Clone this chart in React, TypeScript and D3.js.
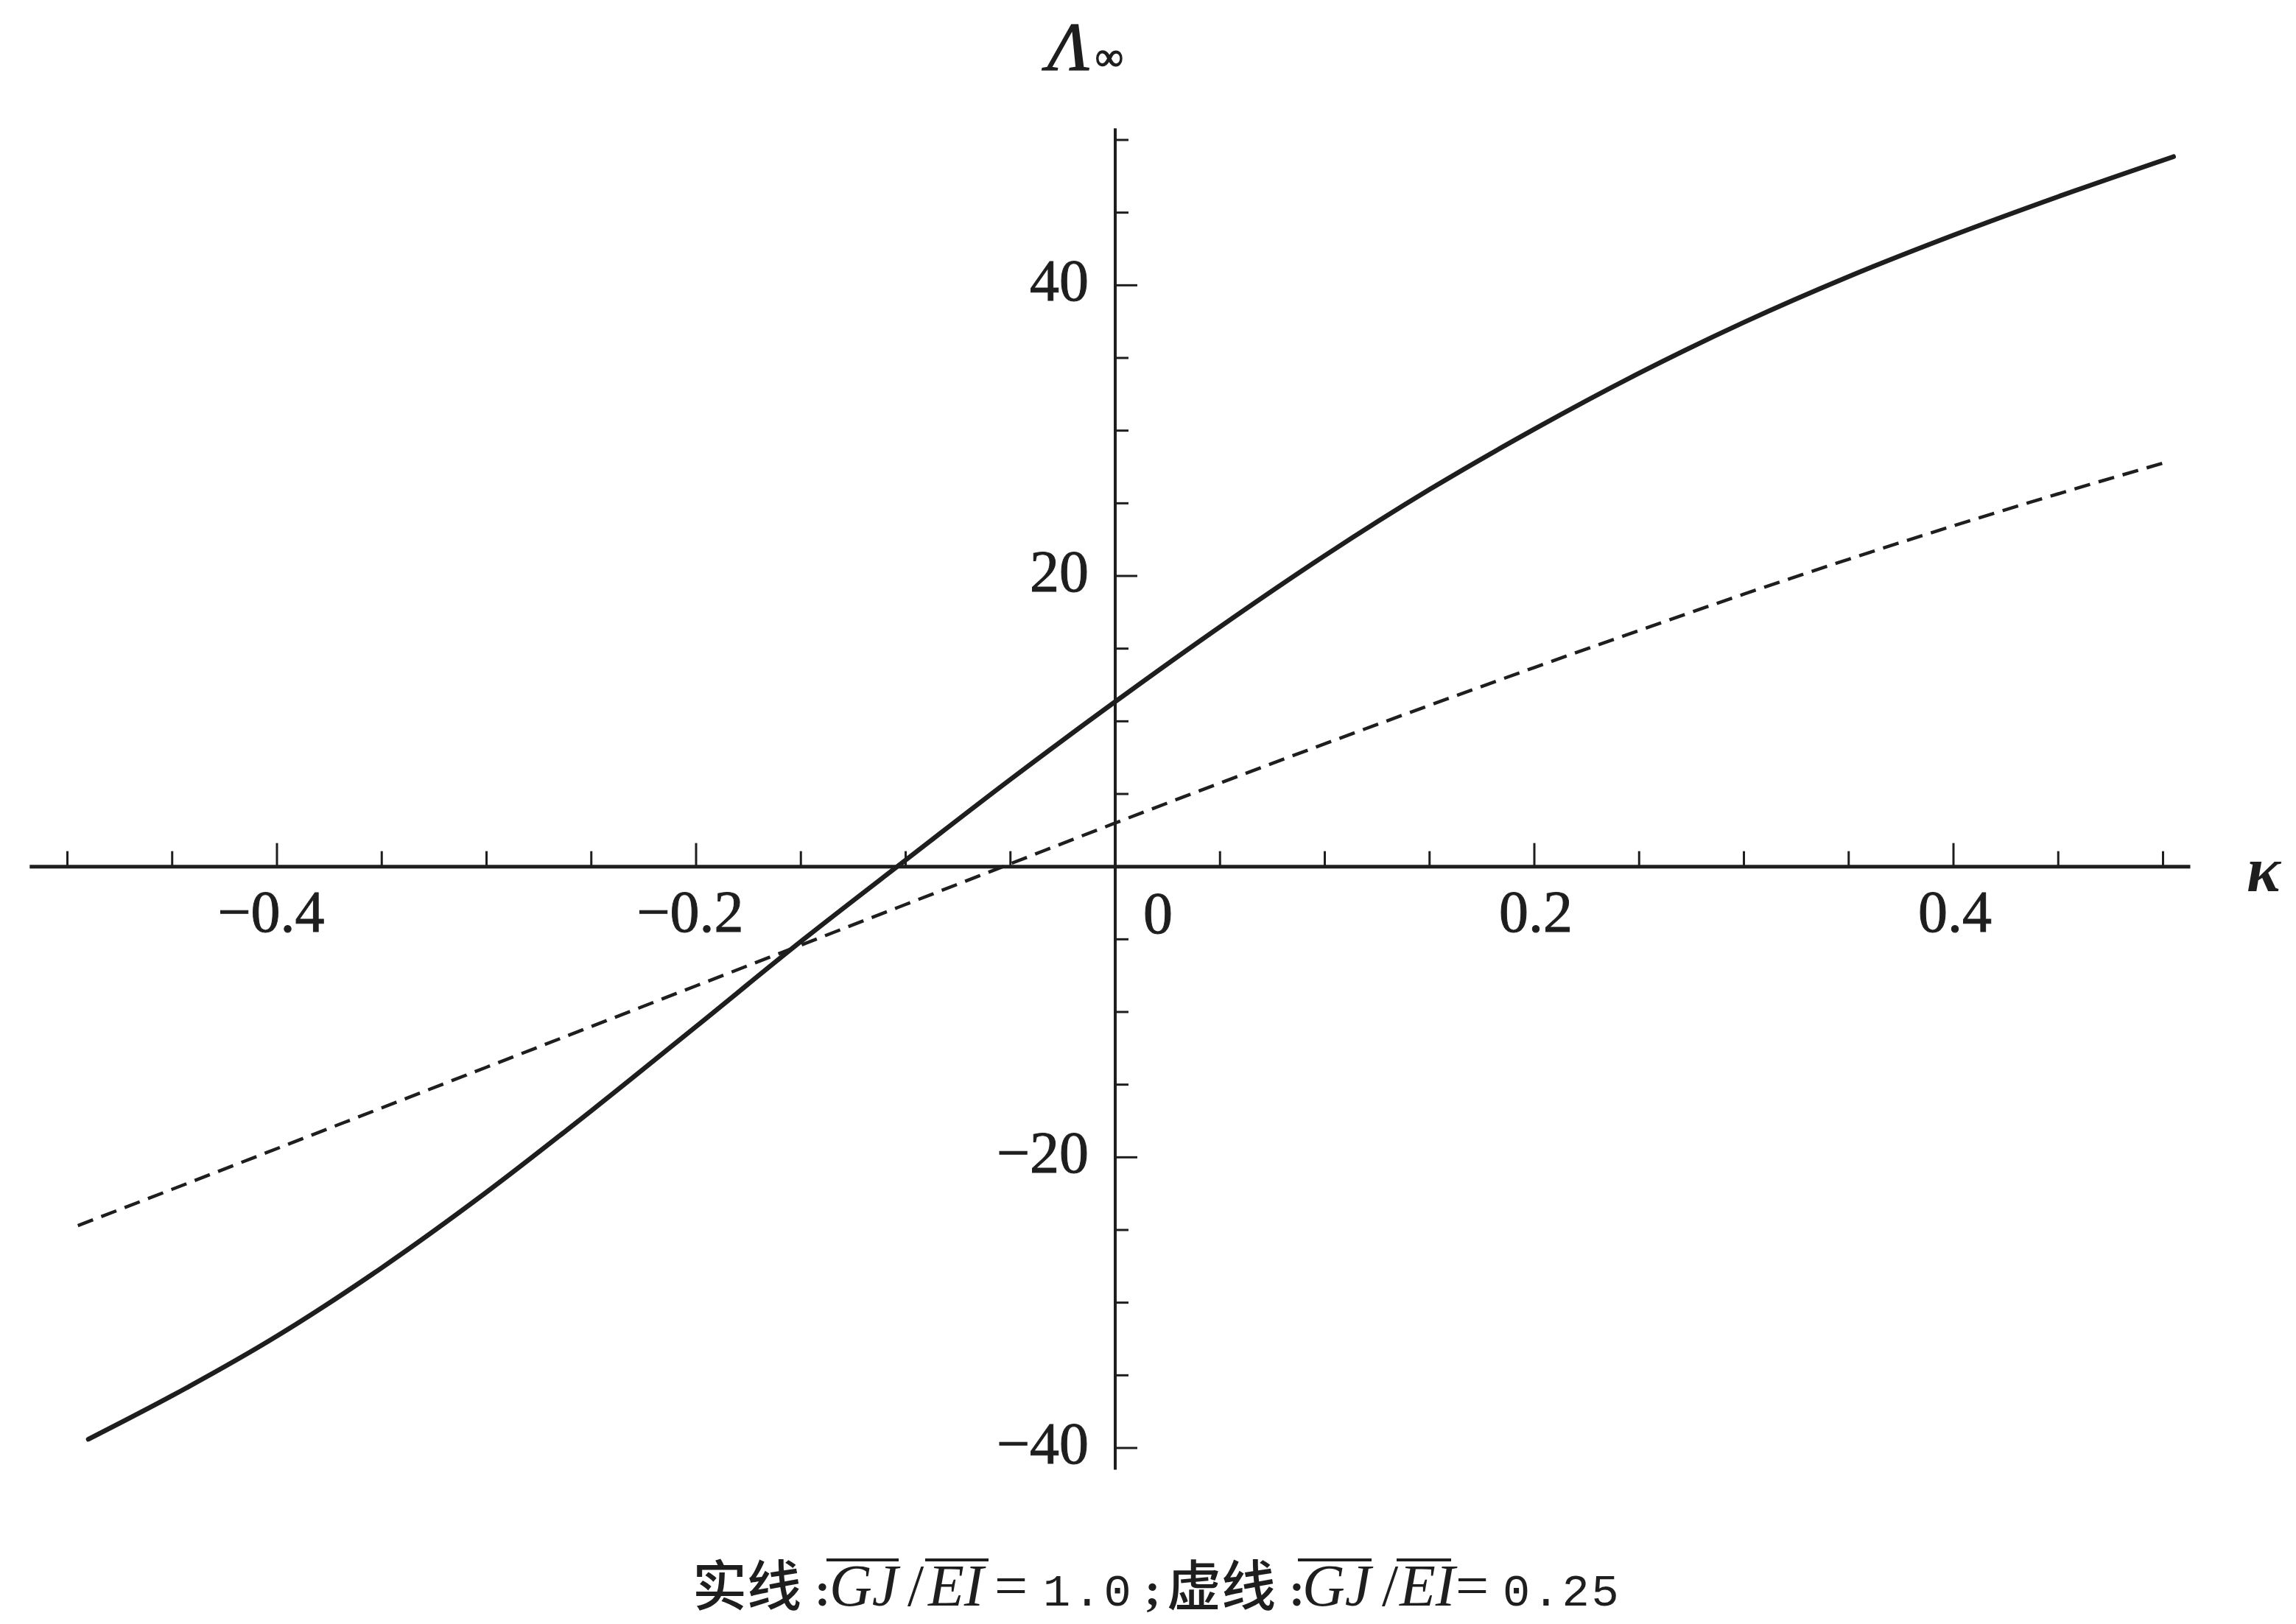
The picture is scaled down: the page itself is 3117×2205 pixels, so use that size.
import { useEffect } from "react";
import * as d3 from "d3";

const W = 3117;
const H = 2205;

// solid line: GJ/EI = 1.0
const kappaSolid = [-0.49, -0.45, -0.4, -0.35, -0.3, -0.25, -0.2, -0.15, -0.1, -0.05, 0, 0.05, 0.1, 0.15, 0.2, 0.25, 0.3, 0.35, 0.4, 0.45, 0.505];
const lambdaSolid = [-39.4, -36.4, -32.3, -27.6, -22.4, -16.8, -11.0, -5.15, 0.45, 6.0, 11.35, 16.5, 21.4, 25.95, 30.1, 33.95, 37.45, 40.6, 43.45, 46.1, 48.85];

// dashed line: GJ/EI = 0.25
const kappaDashed = [-0.495, -0.45, -0.4, -0.35, -0.3, -0.25, -0.2, -0.15, -0.1, -0.05, 0, 0.05, 0.1, 0.15, 0.2, 0.25, 0.3, 0.35, 0.4, 0.45, 0.502];
const lambdaDashed = [-24.7, -22.2, -19.4, -16.6, -13.8, -11.0, -8.2, -5.4, -2.6, 0.2, 3.0, 5.75, 8.45, 11.1, 13.7, 16.25, 18.75, 21.15, 23.45, 25.65, 27.85];

const xMajor = [-0.4, -0.2, 0.2, 0.4];
const xMinor = [-0.5, -0.45, -0.35, -0.3, -0.25, -0.15, -0.1, -0.05, 0.05, 0.1, 0.15, 0.25, 0.3, 0.35, 0.45, 0.5];
const yMajor = [-40, -20, 20, 40];
const yMinor = [-35, -30, -25, -15, -10, -5, 5, 10, 15, 25, 30, 35, 45, 50];

const INK = "#1e1e1e";
const NUM_FONT = "'Liberation Serif', 'Times New Roman', serif";
const CJK_FONT = "'Noto Sans CJK SC', sans-serif";
const MONO_FONT = "'Liberation Mono', monospace";

const fmtTick = (v: number) => (v < 0 ? "\u2212" + Math.abs(v) : String(v));

export default function App() {
  useEffect(() => {
    document.body.style.margin = "0";
    document.body.style.background = "#fff";
  }, []);

  const x = d3.scaleLinear().domain([-0.4, 0.4]).range([376, 2652]);
  const y = d3.scaleLinear().domain([-40, 50]).range([1966, 190]);
  const x0 = x(0);
  const y0 = y(0);

  const line = d3
    .line<[number, number]>()
    .x((d) => x(d[0]))
    .y((d) => y(d[1]))
    .curve(d3.curveMonotoneX);

  const solidPath = line(kappaSolid.map((k, i) => [k, lambdaSolid[i]]));
  const dashedPath = line(kappaDashed.map((k, i) => [k, lambdaDashed[i]]));

  const capY = 2180;
  const overY = 2118;

  return (
    <svg width={W} height={H} style={{ display: "block", position: "absolute", left: 0, top: 0, background: "#fff" }}>
      {/* axes */}
      <line x1={x(-0.518)} x2={x(0.513)} y1={y0} y2={y0} stroke={INK} strokeWidth={5} />
      <line x1={x0} x2={x0} y1={y(50.8)} y2={y(-41.5)} stroke={INK} strokeWidth={4} />

      {xMinor.map((v) => (
        <line key={"xm" + v} x1={x(v)} x2={x(v)} y1={y0} y2={y0 - 21} stroke={INK} strokeWidth={3} />
      ))}
      {xMajor.map((v) => (
        <line key={"xM" + v} x1={x(v)} x2={x(v)} y1={y0} y2={y0 - 32} stroke={INK} strokeWidth={3} />
      ))}
      {yMinor.map((v) => (
        <line key={"ym" + v} x1={x0} x2={x0 + 18} y1={y(v)} y2={y(v)} stroke={INK} strokeWidth={3} />
      ))}
      {yMajor.map((v) => (
        <line key={"yM" + v} x1={x0} x2={x0 + 30} y1={y(v)} y2={y(v)} stroke={INK} strokeWidth={3} />
      ))}

      {/* tick labels */}
      <g fontFamily={NUM_FONT} fontSize={80} fill={INK} stroke={INK} strokeWidth={1}>
        {xMajor.map((v) => (
          <text key={"xl" + v} x={x(v) - (v < 0 ? 8 : -2)} y={y0 + 88} textAnchor="middle">
            {fmtTick(v)}
          </text>
        ))}
        <text x={x0 + 58} y={y0 + 90} textAnchor="middle">0</text>
        {yMajor.map((v) => (
          <text key={"yl" + v} x={x0 - 36} y={y(v) + 21} textAnchor="end">
            {fmtTick(v)}
          </text>
        ))}
      </g>

      {/* axis titles */}
      <text x={1422} y={95} fontFamily={NUM_FONT} fontStyle="italic" fontSize={94} fill={INK} stroke={INK} strokeWidth={1.5}>
        Λ<tspan fontSize={54} fontStyle="normal" dx={8}>∞</tspan>
      </text>
      <text x={3050} y={1210} fontFamily={NUM_FONT} fontStyle="italic" fontWeight="bold" fontSize={86} fill={INK}>
        κ
      </text>

      {/* curves */}
      <path d={solidPath ?? ""} fill="none" stroke={INK} strokeWidth={6.5} strokeLinecap="round" />
      <path d={dashedPath ?? ""} fill="none" stroke={INK} strokeWidth={4.5} strokeDasharray="22 12" />

      {/* caption */}
      <g fill={INK}>
        <text x={940} y={capY} fontFamily={CJK_FONT} fontWeight={500} fontSize={74}>实线</text>
        <text x={1106} y={capY} fontFamily={NUM_FONT} fontSize={64} fontWeight="bold">:</text>
        <text x={1126} y={capY} fontFamily={NUM_FONT} fontStyle="italic" fontSize={80}>GJ</text>
        <text x={1232} y={capY} fontFamily={NUM_FONT} fontSize={80}>/</text>
        <text x={1260} y={capY} fontFamily={NUM_FONT} fontStyle="italic" fontSize={80}>EI</text>
        <text x={1350} y={capY} fontFamily={NUM_FONT} fontSize={80}>=</text>
        <text x={1416} y={capY} fontFamily={MONO_FONT} fontSize={62} letterSpacing={4}>1.0</text>
        <text x={1554} y={capY} fontFamily={NUM_FONT} fontSize={64} fontWeight="bold">;</text>
        <text x={1584} y={capY} fontFamily={CJK_FONT} fontWeight={500} fontSize={74}>虚线</text>
        <text x={1750} y={capY} fontFamily={NUM_FONT} fontSize={64} fontWeight="bold">:</text>
        <text x={1768} y={capY} fontFamily={NUM_FONT} fontStyle="italic" fontSize={80}>GJ</text>
        <text x={1876} y={capY} fontFamily={NUM_FONT} fontSize={80}>/</text>
        <text x={1900} y={capY} fontFamily={NUM_FONT} fontStyle="italic" fontSize={80}>EI</text>
        <text x={1976} y={capY} fontFamily={NUM_FONT} fontSize={80}>=</text>
        <text x={2040} y={capY} fontFamily={MONO_FONT} fontSize={62} letterSpacing={3}>0.25</text>
      </g>
      <g stroke={INK} strokeWidth={4}>
        <line x1={1122} x2={1220} y1={overY} y2={overY} />
        <line x1={1256} x2={1342} y1={overY} y2={overY} />
        <line x1={1762} x2={1862} y1={overY} y2={overY} />
        <line x1={1896} x2={1970} y1={overY} y2={overY} />
      </g>
    </svg>
  );
}
